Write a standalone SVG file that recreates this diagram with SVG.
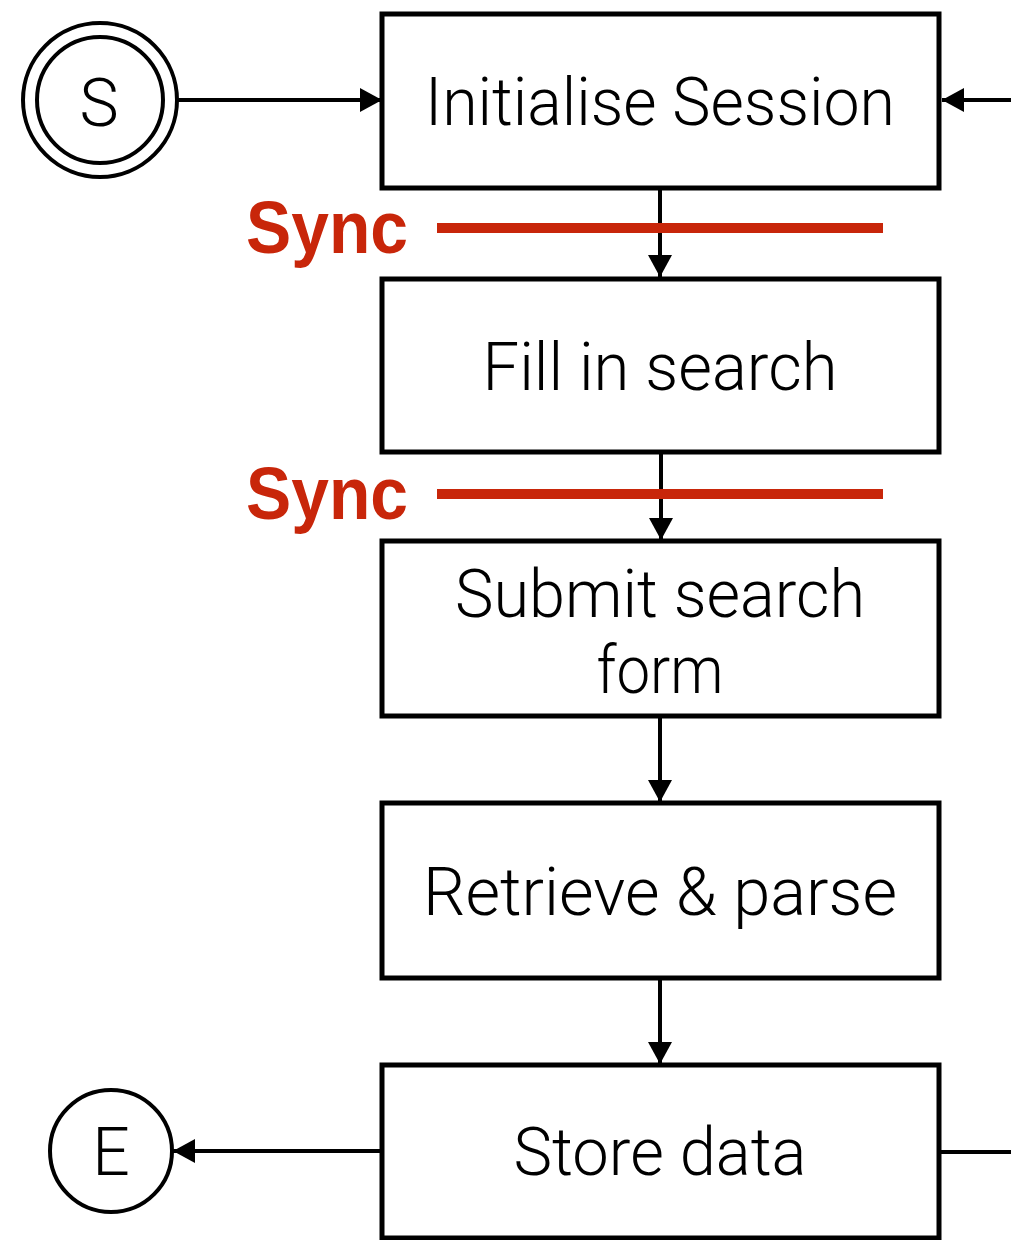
<svg xmlns="http://www.w3.org/2000/svg" width="1011" height="1240" viewBox="0 0 1011 1240">
<defs>
<marker id="ah" viewBox="0 0 22 24" refX="22" refY="12" markerWidth="22" markerHeight="24" markerUnits="userSpaceOnUse" orient="auto">
<path d="M0,0 L22,12 L0,24 Z" fill="#000"/>
</marker>
<style>
.box{fill:#fff;stroke:#000;stroke-width:5}
.lbl{font-family:Roboto,"Open Sans","Liberation Sans",sans-serif;font-weight:300;font-size:66px;fill:#000;text-anchor:middle}
.conn{stroke:#000;stroke-width:4;fill:none}
.sync{stroke:#C8260A;stroke-width:10}
.synct{font-family:"Liberation Sans",Arial,sans-serif;font-weight:bold;font-size:75px;fill:#C8260A}
</style>
</defs>
<rect width="1011" height="1240" fill="#fff"/>
<g id="connectors">
<line class="conn" x1="176" y1="100" x2="382" y2="100" marker-end="url(#ah)"/>
<line class="conn" x1="1011" y1="100" x2="942" y2="100" marker-end="url(#ah)"/>
<line class="conn" x1="660" y1="188" x2="660" y2="277" marker-end="url(#ah)"/>
<line class="conn" x1="661" y1="452" x2="661" y2="540" marker-end="url(#ah)"/>
<line class="conn" x1="660" y1="716" x2="660" y2="802" marker-end="url(#ah)"/>
<line class="conn" x1="660" y1="978" x2="660" y2="1064" marker-end="url(#ah)"/>
<line class="conn" x1="380" y1="1151" x2="173" y2="1151" marker-end="url(#ah)"/>
<line class="conn" x1="940" y1="1152" x2="1011" y2="1152"/>
</g>
<g id="start">
<circle cx="100" cy="100" r="77" fill="#fff" stroke="#000" stroke-width="4"/>
<circle cx="100" cy="100" r="63" fill="none" stroke="#000" stroke-width="4"/>
<text x="99" y="126" class="lbl" font-size="72">S</text>
</g>
<g id="end">
<circle cx="111" cy="1151" r="61" fill="#fff" stroke="#000" stroke-width="4"/>
<text x="111" y="1175" class="lbl">E</text>
</g>
<g id="n1">
<rect class="box" x="382" y="14" width="557" height="174"/>
<text x="660" y="125" class="lbl" textLength="470" lengthAdjust="spacingAndGlyphs">Initialise Session</text>
</g>
<g id="n2">
<rect class="box" x="382" y="279" width="557" height="173"/>
<text x="660" y="390" class="lbl" textLength="355" lengthAdjust="spacingAndGlyphs">Fill in search</text>
</g>
<g id="n3">
<rect class="box" x="382" y="541" width="557" height="175"/>
<text x="660" y="617" class="lbl" textLength="410" lengthAdjust="spacingAndGlyphs">Submit search</text>
<text x="660" y="693" class="lbl" textLength="127" lengthAdjust="spacingAndGlyphs">form</text>
</g>
<g id="n4">
<rect class="box" x="382" y="803" width="557" height="175"/>
<text x="660" y="915" class="lbl" textLength="474" lengthAdjust="spacingAndGlyphs">Retrieve &amp; parse</text>
</g>
<g id="n5">
<rect class="box" x="382" y="1065" width="557" height="173"/>
<text x="660" y="1175" class="lbl" textLength="293" lengthAdjust="spacingAndGlyphs">Store data</text>
</g>
<g id="sync1">
<line class="sync" x1="437" y1="228" x2="883" y2="228"/>
<text x="246" y="253" class="synct" textLength="162" lengthAdjust="spacingAndGlyphs">Sync</text>
</g>
<g id="sync2">
<line class="sync" x1="437" y1="494" x2="883" y2="494"/>
<text x="246" y="519" class="synct" textLength="162" lengthAdjust="spacingAndGlyphs">Sync</text>
</g>
</svg>
